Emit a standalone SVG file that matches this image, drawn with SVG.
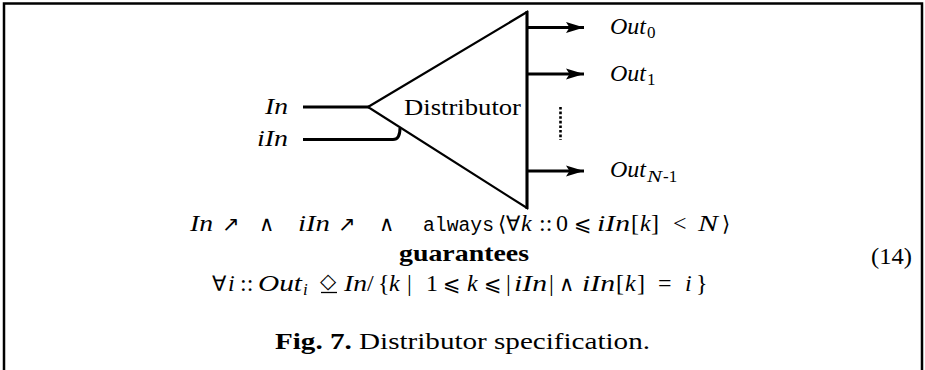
<svg xmlns="http://www.w3.org/2000/svg" width="925" height="370" viewBox="0 0 925 370">
<defs>
<style>
.frame{fill:none;stroke:#000;stroke-width:2.5}
.wire{fill:none;stroke:#000;stroke-width:3}
.tri{fill:#fff;stroke:#000;stroke-width:2.2;stroke-linejoin:miter}
.rm{font-family:"Liberation Serif",serif;font-size:24px;fill:#000}
.mi{font-family:"Liberation Serif",serif;font-style:italic;font-size:24px;fill:#000}
.sy{font-family:"DejaVu Sans",sans-serif;font-size:21px;fill:#000}
.tt{font-family:"Liberation Mono",monospace;font-size:20px;fill:#000}
.bf{font-family:"Liberation Serif",serif;font-weight:bold;font-size:23px;fill:#000}
.sub{font-size:17px}
</style>
<marker id="ah" markerWidth="20" markerHeight="12" refX="18" refY="6" orient="auto" markerUnits="userSpaceOnUse">
<path d="M0,0.5 L18,6 L0,11.5 L3.5,6 Z" fill="#000"/>
</marker>
</defs>
<rect width="925" height="370" fill="#fff"/>
<path class="frame" d="M4,372 V3.5 H922 V372"/>

<g id="connectors">
<line class="wire" x1="303" y1="107" x2="369" y2="107"/>
<path class="wire" d="M303,139.5 H393 Q400,139.5 400,128"/>
<line class="wire" x1="527" y1="27.5" x2="584" y2="27.5" marker-end="url(#ah)"/>
<line class="wire" x1="527" y1="74" x2="584" y2="74" marker-end="url(#ah)"/>
<line class="wire" x1="527" y1="171" x2="584" y2="171" marker-end="url(#ah)"/>
<line x1="560.5" y1="107" x2="560.5" y2="140" stroke="#000" stroke-width="2.6" stroke-dasharray="2.6 2"/>
</g>

<g id="distributor">
<polygon class="tri" points="368,107 527,12 527,208"/>
<line x1="527" y1="11" x2="527" y2="209" stroke="#000" stroke-width="3"/>
<text class="rm" x="404" y="115" textLength="117" lengthAdjust="spacingAndGlyphs">Distributor</text>
</g>

<g id="in-label"><text class="mi" x="265" y="114" textLength="23" lengthAdjust="spacingAndGlyphs">In</text></g>
<g id="iin-label"><text class="mi" x="257" y="146" textLength="31" lengthAdjust="spacingAndGlyphs">iIn</text></g>

<g id="out0"><text class="mi" x="610" y="34" textLength="36" lengthAdjust="spacingAndGlyphs">Out</text><text class="rm sub" x="647" y="38">0</text></g>
<g id="out1"><text class="mi" x="610" y="81" textLength="36" lengthAdjust="spacingAndGlyphs">Out</text><text class="rm sub" x="647" y="85">1</text></g>
<g id="outN"><text class="mi" x="610" y="177" textLength="36" lengthAdjust="spacingAndGlyphs">Out</text><text class="mi sub" x="647" y="182" textLength="15" lengthAdjust="spacingAndGlyphs">N</text><text class="rm sub" x="663" y="182">-1</text></g>

<g id="formula">
<text class="mi" x="190" y="231" textLength="23" lengthAdjust="spacingAndGlyphs">In</text>
<text class="sy" x="222" y="231" font-size="24">↗</text>
<text class="sy" x="259" y="231">∧</text>
<text class="mi" x="298" y="231" textLength="32" lengthAdjust="spacingAndGlyphs">iIn</text>
<text class="sy" x="338" y="231" font-size="24">↗</text>
<text class="sy" x="379" y="231">∧</text>
<text class="tt" x="423" y="231" textLength="71" lengthAdjust="spacingAndGlyphs">always</text>
<text class="sy" x="498" y="231">⟨</text>
<text class="sy" x="506" y="231">∀</text>
<text class="mi" x="521" y="231">k</text>
<text class="rm" x="539" y="231">::</text>
<text class="rm" x="556" y="231">0</text>
<text class="sy" x="574" y="231">⩽</text>
<text class="mi" x="597" y="231" textLength="33" lengthAdjust="spacingAndGlyphs">iIn</text>
<text class="rm" x="631" y="231">[</text>
<text class="mi" x="640" y="231">k</text>
<text class="rm" x="651" y="231">]</text>
<text class="rm" x="673" y="231">&lt;</text>
<text class="mi" x="698" y="231" textLength="20" lengthAdjust="spacingAndGlyphs">N</text>
<text class="sy" x="722" y="231">⟩</text>

<text class="bf" x="399" y="261" textLength="130" lengthAdjust="spacingAndGlyphs">guarantees</text>

<text class="sy" x="212" y="291">∀</text>
<text class="mi" x="228" y="291">i</text>
<text class="rm" x="240" y="291">::</text>
<text class="mi" x="258" y="291" textLength="44" lengthAdjust="spacingAndGlyphs">Out</text>
<text class="mi sub" x="303" y="295">i</text>
<text class="sy" x="320" y="288" font-size="16">◇</text>
<line x1="321" y1="292.5" x2="337" y2="292.5" stroke="#000" stroke-width="1.3"/>
<text class="mi" x="344" y="291" textLength="23" lengthAdjust="spacingAndGlyphs">In</text>
<text class="rm" x="367" y="291">/</text>
<text class="rm" x="378" y="291">{</text>
<text class="mi" x="389" y="291">k</text>
<text class="rm" x="407" y="291">|</text>
<text class="rm" x="426" y="291">1</text>
<text class="sy" x="443" y="291">⩽</text>
<text class="mi" x="467" y="291">k</text>
<text class="sy" x="484" y="291">⩽</text>
<text class="rm" x="506" y="291">|</text>
<text class="mi" x="514" y="291" textLength="33" lengthAdjust="spacingAndGlyphs">iIn</text>
<text class="rm" x="549" y="291">|</text>
<text class="sy" x="559" y="291">∧</text>
<text class="mi" x="582" y="291" textLength="33" lengthAdjust="spacingAndGlyphs">iIn</text>
<text class="rm" x="616" y="291">[</text>
<text class="mi" x="625" y="291">k</text>
<text class="rm" x="637" y="291">]</text>
<text class="rm" x="658" y="291">=</text>
<text class="mi" x="685" y="291">i</text>
<text class="rm" x="696" y="291">}</text>

<text class="rm" x="871" y="264" textLength="41" lengthAdjust="spacingAndGlyphs">(14)</text>
</g>

<g id="caption">
<text class="rm" x="275" y="349" font-size="23" textLength="375" lengthAdjust="spacingAndGlyphs"><tspan font-weight="bold">Fig. 7.</tspan> Distributor specification.</text>
</g>
</svg>
